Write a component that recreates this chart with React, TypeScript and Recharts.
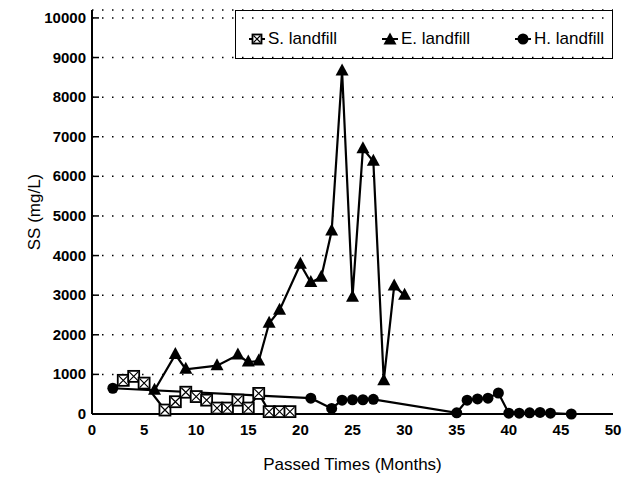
import React from "react";
import { CartesianGrid, Legend, Line, LineChart, XAxis, YAxis } from "recharts";

const sMonths = [3, 4, 5, 7, 8, 9, 10, 11, 12, 13, 14, 15, 16, 17, 18, 19];
const sValues = [850, 950, 780, 100, 310, 550, 440, 350, 150, 150, 350, 150, 520, 60, 60, 60];

const eMonths = [6, 8, 9, 12, 14, 15, 16, 17, 18, 20, 21, 22, 23, 24, 25, 26, 27, 28, 29, 30];
const eValues = [600, 1500, 1130, 1220, 1490, 1310, 1340, 2290, 2620, 3780, 3320, 3450, 4620, 8660, 2950, 6700, 6380, 840, 3230, 3000];

const hMonths = [2, 21, 23, 24, 25, 26, 27, 35, 36, 37, 38, 39, 40, 41, 42, 43, 44, 46];
const hValues = [650, 400, 140, 350, 360, 360, 370, 30, 350, 380, 400, 530, 20, 20, 30, 40, 20, 0];

const xTicks = [0, 5, 10, 15, 20, 25, 30, 35, 40, 45, 50];
const yTicks = [0, 1000, 2000, 3000, 4000, 5000, 6000, 7000, 8000, 9000, 10000];

const toPoints = (months: number[], values: number[]) =>
  months.map((t, i) => ({ t, v: values[i] }));

const sData = toPoints(sMonths, sValues);
const eData = toPoints(eMonths, eValues);
const hData = toPoints(hMonths, hValues);

const FONT = "'Liberation Sans', Arial, sans-serif";

function SquareMark({ cx, cy, size = 5.5 }: { cx: number; cy: number; size?: number }) {
  const s = size;
  return (
    <g>
      <rect x={cx - s} y={cy - s} width={s * 2} height={s * 2} fill="#fff" stroke="#000" strokeWidth={1.8} />
      <path
        d={`M${cx - s + 1},${cy - s + 1}L${cx + s - 1},${cy + s - 1}M${cx + s - 1},${cy - s + 1}L${cx - s + 1},${cy + s - 1}`}
        stroke="#000"
        strokeWidth={1.2}
      />
    </g>
  );
}

function TriangleMark({ cx, cy }: { cx: number; cy: number }) {
  return <polygon points={`${cx},${cy - 7.5} ${cx - 6.5},${cy + 4.5} ${cx + 6.5},${cy + 4.5}`} fill="#000" />;
}

function CircleMark({ cx, cy }: { cx: number; cy: number }) {
  return <circle cx={cx} cy={cy} r={5.5} fill="#000" />;
}

const squareDot = (p: any) => <SquareMark key={`s${p.index}`} cx={p.cx} cy={p.cy} />;
const triangleDot = (p: any) => <TriangleMark key={`e${p.index}`} cx={p.cx} cy={p.cy} />;
const circleDot = (p: any) => <CircleMark key={`h${p.index}`} cx={p.cx} cy={p.cy} />;

function YTick(props: any) {
  const { x, y, payload } = props;
  return (
    <g>
      <line x1={x + 6} x2={x + 13} y1={y} y2={y} stroke="#000" strokeWidth={1.5} />
      <text x={x} y={y} dy={5} textAnchor="end" fontFamily={FONT} fontWeight="bold" fontSize={15} fill="#000">
        {payload.value}
      </text>
    </g>
  );
}

const legendItems = [
  { name: "S. landfill", icon: "square" },
  { name: "E. landfill", icon: "triangle" },
  { name: "H. landfill", icon: "circle" },
];

function LegendIcon({ icon }: { icon: string }) {
  return (
    <svg width={18} height={14} style={{ marginRight: 2 }}>
      <line x1={1} x2={17} y1={7} y2={7} stroke="#000" strokeWidth={2} />
      {icon === "square" && <SquareMark cx={9} cy={7} size={4.5} />}
      {icon === "triangle" && <TriangleMark cx={9} cy={8} />}
      {icon === "circle" && <CircleMark cx={9} cy={7} />}
    </svg>
  );
}

function LegendBox() {
  return (
    <div
      style={{
        boxSizing: "border-box",
        width: 378,
        height: 49,
        border: "1.5px solid #000",
        display: "flex",
        alignItems: "center",
        justifyContent: "space-between",
        padding: "8px 8px 0 12px",
        fontFamily: FONT,
        fontSize: 17,
        color: "#000",
      }}
    >
      {legendItems.map((it) => (
        <span key={it.name} style={{ display: "flex", alignItems: "center" }}>
          <LegendIcon icon={it.icon} />
          {it.name}
        </span>
      ))}
    </div>
  );
}

export default function App() {
  return (
    <div style={{ position: "absolute", left: 0, top: 0, width: 632, height: 477, background: "#fff" }}>
      <LineChart width={632} height={477} margin={{ top: 10, right: 19, left: 0, bottom: 33 }}>
        <CartesianGrid
          xAxisId="b"
          yAxisId="l"
          horizontal
          vertical={false}
          stroke="#000"
          strokeDasharray="1.5 8.5"
          strokeWidth={1.5}
        />
        <XAxis
          xAxisId="b"
          type="number"
          dataKey="t"
          domain={[0, 50]}
          ticks={xTicks}
          interval={0}
          height={30}
          tickSize={0}
          tickMargin={10}
          axisLine={{ stroke: "#000", strokeWidth: 2 }}
          tick={{ fill: "#000", fontFamily: FONT, fontWeight: "bold", fontSize: 15 }}
          label={{
            value: "Passed Times (Months)",
            position: "insideBottom",
            offset: -26,
            fill: "#000",
            fontFamily: FONT,
            fontSize: 17,
          }}
        />
        <XAxis
          xAxisId="t"
          orientation="top"
          type="number"
          dataKey="t"
          domain={[0, 50]}
          height={0}
          tick={false}
          tickLine={false}
          axisLine={{ stroke: "#000", strokeWidth: 1.5 }}
        />
        <YAxis
          yAxisId="l"
          type="number"
          domain={[0, 10200]}
          ticks={yTicks}
          interval={0}
          width={92}
          tickSize={0}
          tickMargin={6}
          axisLine={{ stroke: "#000", strokeWidth: 2 }}
          tick={<YTick />}
          label={{
            value: "SS (mg/L)",
            angle: -90,
            position: "insideLeft",
            offset: 34,
            fill: "#000",
            fontFamily: FONT,
            fontSize: 17,
            style: { textAnchor: "middle" },
          }}
        />
        <YAxis
          yAxisId="r"
          orientation="right"
          type="number"
          domain={[0, 10200]}
          width={0}
          tick={false}
          tickLine={false}
          axisLine={{ stroke: "#000", strokeWidth: 1.5 }}
        />
        <Legend
          layout="horizontal"
          verticalAlign="middle"
          content={() => <LegendBox />}
          wrapperStyle={{ top: 10, left: 235, width: 378 }}
        />
        <Line
          xAxisId="b"
          yAxisId="l"
          data={hData}
          dataKey="v"
          name="H. landfill"
          stroke="#000"
          strokeWidth={2.2}
          dot={circleDot}
          isAnimationActive={false}
        />
        <Line
          xAxisId="b"
          yAxisId="l"
          data={eData}
          dataKey="v"
          name="E. landfill"
          stroke="#000"
          strokeWidth={2.2}
          dot={triangleDot}
          isAnimationActive={false}
        />
        <Line
          xAxisId="b"
          yAxisId="l"
          data={sData}
          dataKey="v"
          name="S. landfill"
          stroke="#000"
          strokeWidth={2.2}
          dot={squareDot}
          isAnimationActive={false}
        />
      </LineChart>
    </div>
  );
}
